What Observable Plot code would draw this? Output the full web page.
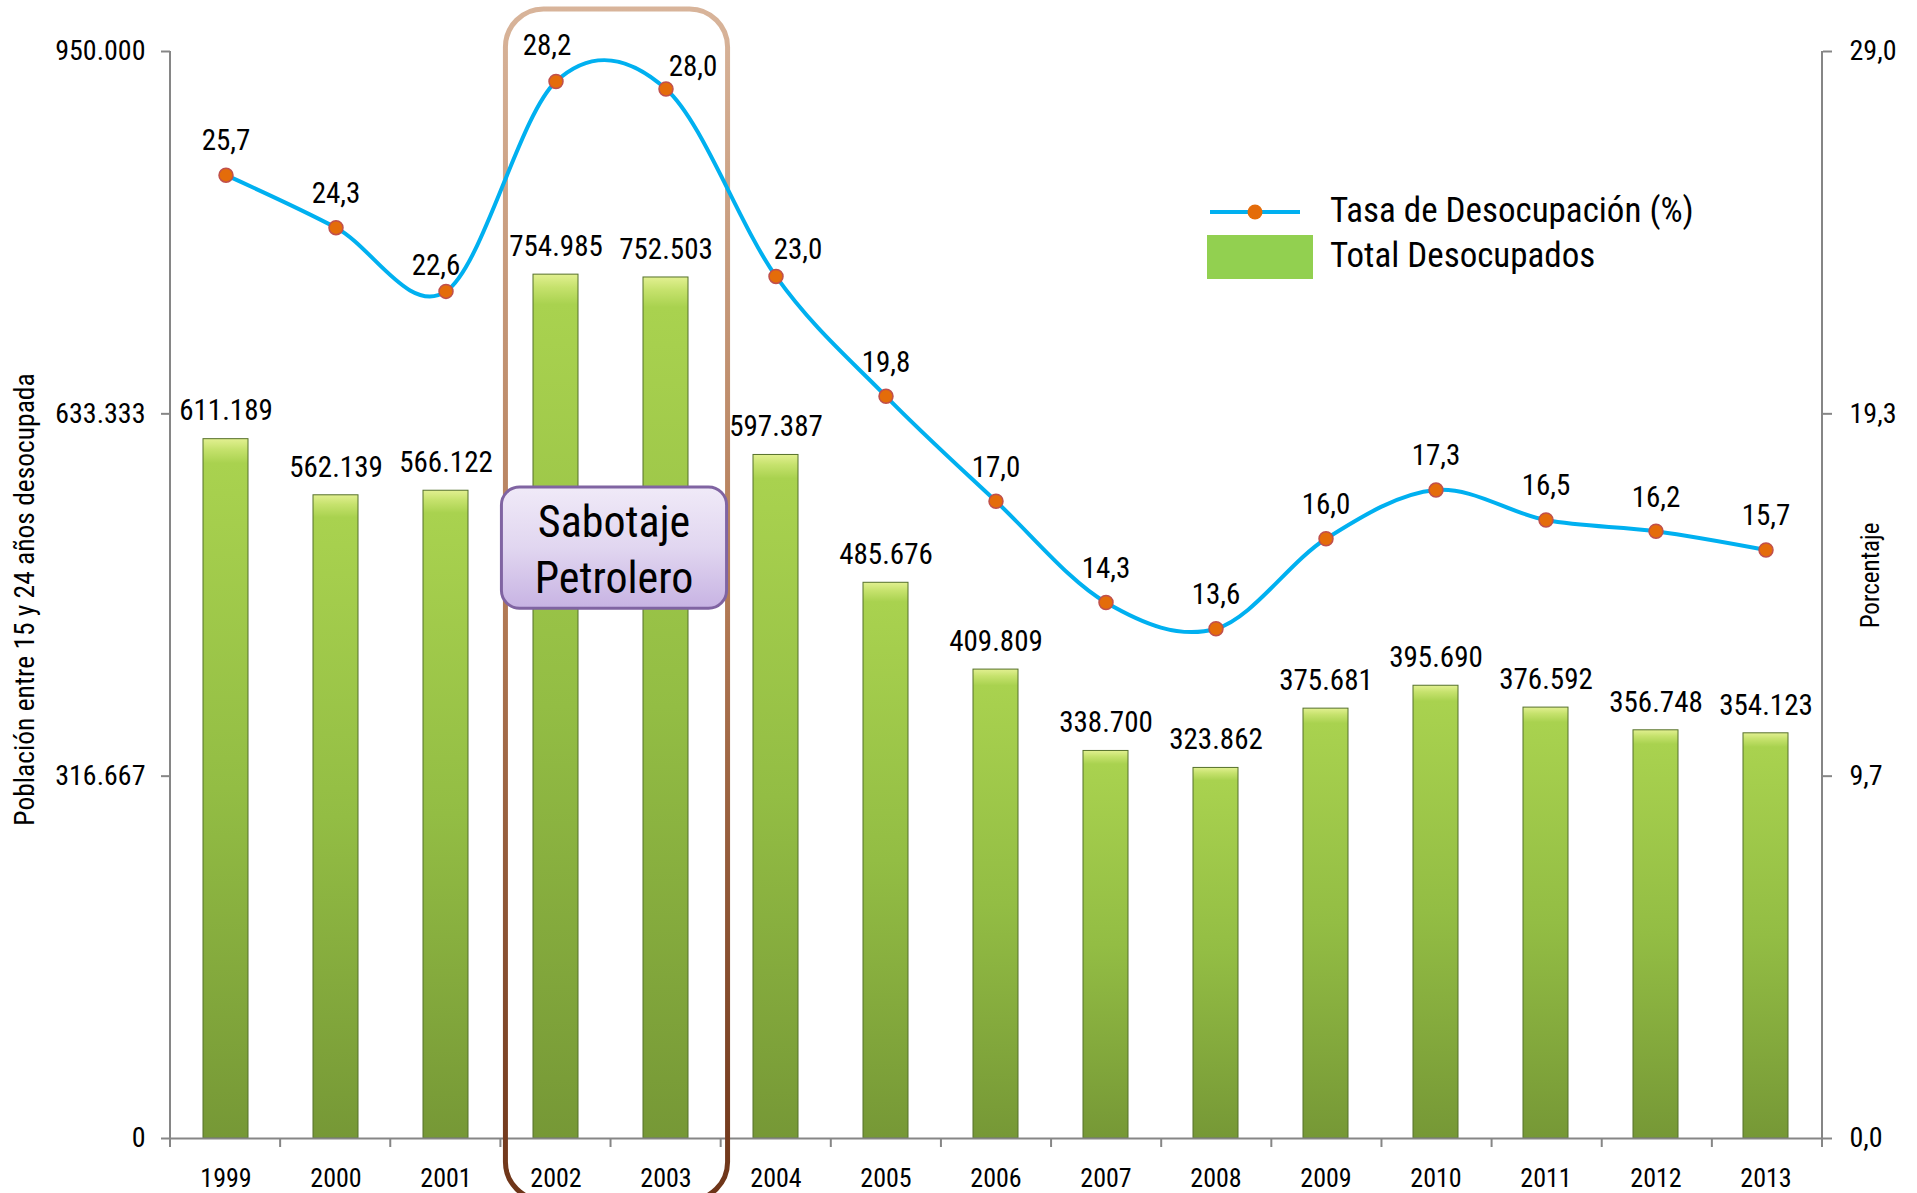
<!DOCTYPE html>
<html>
<head>
<meta charset="utf-8">
<script src="https://cdn.jsdelivr.net/npm/d3@7"></script>
<script src="https://cdn.jsdelivr.net/npm/@observablehq/plot@0.6"></script>
<style>
  html, body { margin: 0; padding: 0; background: #fff; }
  #chart svg { display: block; }
</style>
</head>
<body>
<div id="chart"></div>
<script>
// ---- data ----
const years = ["1999","2000","2001","2002","2003","2004","2005","2006","2007","2008","2009","2010","2011","2012","2013"];
const totalDesocupados = [611189, 562139, 566122, 754985, 752503, 597387, 485676, 409809, 338700, 323862, 375681, 395690, 376592, 356748, 354123];
const tasaDesocupacion = [25.7, 24.3, 22.6, 28.2, 28.0, 23.0, 19.8, 17.0, 14.3, 13.6, 16.0, 17.3, 16.5, 16.2, 15.7];
const leftTicks = [0, 316667, 633333, 950000];
const leftMax = 950000;
const rightMax = 29;
const highlightYears = ["2002", "2003"];
const highlightText = ["Sabotaje", "Petrolero"];
const seriesNames = ["Tasa de Desocupación (%)", "Total Desocupados"];
const leftTitle = "Población entre 15 y 24 años desocupada";
const rightTitle = "Porcentaje";

// ---- helpers ----
const locale = d3.formatLocale({decimal: ",", thousands: ".", grouping: [3], currency: ["", ""]});
const fmtInt = locale.format(",.0f");
const fmtPct = locale.format(".1f");
const k = leftMax / rightMax;
const FONT = '"Liberation Sans Narrow", "Arial Narrow", "Roboto Condensed", "DejaVu Sans Condensed", sans-serif';

// label nudges for the rate labels (style, not data)
const rateLabelDx = {"2001": -10, "2002": -9, "2003": 27, "2004": 22};
const rateLabelDy = {"2001": -26, "2002": -36, "2003": -22, "2004": -27};

const data = years.map((y, i) => ({
  year: y,
  total: totalDesocupados[i],
  tasa: tasaDesocupacion[i],
  tasaY: tasaDesocupacion[i] * k
}));

const chart = Plot.plot({
  width: 1917,
  height: 1193,
  marginLeft: 170,
  marginRight: 95,
  marginTop: 51,
  marginBottom: 55,
  style: {fontFamily: FONT, fontSize: "26px", color: "#000", background: "#fff", overflow: "visible"},
  x: {domain: years, paddingInner: 0.59, paddingOuter: 0.295, label: null},
  y: {domain: [0, leftMax], label: null},
  marks: [
    Plot.barY(data, {x: "year", y: "total", fill: "url(#barGrad)", stroke: "#55702a", strokeWidth: 1}),
    Plot.ruleY([0], {stroke: "#868686", strokeWidth: 2}),
    Plot.axisX({tickSize: 0, tickPadding: 30, fontSize: 26, label: null, fill: "#000"}),
    Plot.axisY({ticks: leftTicks, tickFormat: fmtInt, tickSize: 9, tickPadding: 16, fontSize: 28, stroke: "#868686", strokeWidth: 2, fill: "#000", label: null}),
    Plot.axisY({anchor: "right", ticks: leftTicks, tickFormat: v => fmtPct(v / k), tickSize: 9, tickPadding: 18, fontSize: 28, stroke: "#868686", strokeWidth: 2, fill: "#000", label: null}),
    Plot.line(data, {x: "year", y: "tasaY", stroke: "#00b0f0", strokeWidth: 4, curve: "cardinal", tension: 0}),
    Plot.dot(data, {x: "year", y: "tasaY", r: 7, fill: "#e46c0a", stroke: "#c0504d", strokeWidth: 1.5}),
    Plot.text(data, {x: "year", y: "tasaY", text: d => fmtPct(d.tasa), fontSize: 29, fill: "#000", className: "rate-label"}),
    Plot.text(data, {x: "year", y: "total", text: d => fmtInt(d.total), dy: -28, fontSize: 29, fill: "#000"})
  ]
});

document.getElementById("chart").appendChild(chart);

// ---- decorations built from the chart's scales ----
const svg = d3.select(chart);
const xs = chart.scale("x");
const ys = chart.scale("y");
const [xr0, xr1] = xs.range;
const [yBottom, yTop] = ys.range;
const n = years.length;
const step = (xr1 - xr0) / n;

// nudge rate labels
svg.selectAll("g.rate-label text").each(function(_, i) {
  const y = years[i];
  const dx = rateLabelDx[y] ?? 0;
  const dy = rateLabelDy[y] ?? -34;
  const t = this.getAttribute("transform") || "";
  this.setAttribute("transform", t + ` translate(${dx},${dy})`);
});

const defs = svg.insert("defs", ":first-child");
const bg = defs.append("linearGradient").attr("id", "barGrad").attr("x1", 0).attr("y1", 0).attr("x2", 0).attr("y2", 1);
[[0, "#e2f091"], [0.015, "#c6e26d"], [0.035, "#a9d24f"], [0.5, "#93bd44"], [1, "#769836"]]
  .forEach(([o, c]) => bg.append("stop").attr("offset", o).attr("stop-color", c));
const hg = defs.append("linearGradient").attr("id", "hlGrad").attr("x1", 0).attr("y1", 0).attr("x2", 0).attr("y2", 1);
[[0, "#d8b49a"], [0.5, "#b27a55"], [1, "#6d3418"]]
  .forEach(([o, c]) => hg.append("stop").attr("offset", o).attr("stop-color", c));
const pg = defs.append("linearGradient").attr("id", "boxGrad").attr("x1", 0).attr("y1", 0).attr("x2", 0).attr("y2", 1);
[[0, "#f0eaf8"], [0.5, "#e1d6f0"], [1, "#c7b3e3"]]
  .forEach(([o, c]) => pg.append("stop").attr("offset", o).attr("stop-color", c));

// axis lines
const ax = svg.append("g").attr("stroke", "#868686").attr("stroke-width", 2);
ax.append("line").attr("x1", xr0).attr("x2", xr0).attr("y1", yTop).attr("y2", yBottom);
ax.append("line").attr("x1", xr1).attr("x2", xr1).attr("y1", yTop).attr("y2", yBottom);
for (let i = 0; i <= n; i++) {
  const xx = xr0 + i * step;
  ax.append("line").attr("x1", xx).attr("x2", xx).attr("y1", yBottom).attr("y2", yBottom + 9);
}

// highlight box (2002-2003)
const hlLeft = xs.apply(highlightYears[0]) - (step - xs.bandwidth) / 2 + 5;
const hlRight = xs.apply(highlightYears[1]) + xs.bandwidth + (step - xs.bandwidth) / 2 + 7;
const hl = svg.insert("g", 'g[aria-label="line"]');
hl.append("rect")
  .attr("x", hlLeft).attr("y", 9)
  .attr("width", hlRight - hlLeft).attr("height", 1200 - 9)
  .attr("rx", 38).attr("ry", 38)
  .attr("fill", "none").attr("stroke", "url(#hlGrad)").attr("stroke-width", 5);

// Sabotaje Petrolero label box
const boxTop = ys.apply(569000), boxBottom = ys.apply(463000);
const bx = hl.append("g");
const bxLeft = hlLeft - 4, bxWidth = hlRight - hlLeft + 3;
bx.append("rect")
  .attr("x", bxLeft).attr("y", boxTop)
  .attr("width", bxWidth).attr("height", boxBottom - boxTop)
  .attr("rx", 18).attr("ry", 18)
  .attr("fill", "url(#boxGrad)").attr("stroke", "#8064a2").attr("stroke-width", 3);
const bxc = bxLeft + bxWidth / 2;
highlightText.forEach((t, i) => {
  bx.append("text").attr("x", bxc).attr("y", boxTop + 38 + i * 56)
    .attr("text-anchor", "middle").attr("dominant-baseline", "middle")
    .attr("font-family", FONT).attr("font-size", 44).attr("fill", "#000").text(t);
});

// axis titles
svg.append("text")
  .attr("transform", `translate(27,${(yTop + yBottom) / 2 + 5}) rotate(-90)`)
  .attr("text-anchor", "middle").attr("dominant-baseline", "middle")
  .attr("font-family", FONT).attr("font-size", 27.5).attr("fill", "#000").text(leftTitle);
svg.append("text")
  .attr("transform", `translate(1872,${(yTop + yBottom) / 2 - 19}) rotate(-90)`)
  .attr("text-anchor", "middle").attr("dominant-baseline", "middle")
  .attr("font-family", FONT).attr("font-size", 25).attr("fill", "#000").text(rightTitle);

// legend
const lg = svg.append("g").attr("font-family", FONT).attr("font-size", 35).attr("fill", "#000").attr("text-anchor", "start");
lg.append("line").attr("x1", 1210).attr("x2", 1300).attr("y1", 212).attr("y2", 212)
  .attr("stroke", "#00b0f0").attr("stroke-width", 4);
lg.append("circle").attr("cx", 1255).attr("cy", 212).attr("r", 7.5).attr("fill", "#e46c0a");
lg.append("rect").attr("x", 1207).attr("y", 235).attr("width", 106).attr("height", 44).attr("fill", "#92d050");
lg.append("text").attr("x", 1330).attr("y", 213).attr("dominant-baseline", "middle").text(seriesNames[0]);
lg.append("text").attr("x", 1330).attr("y", 258).attr("dominant-baseline", "middle").text(seriesNames[1]);
</script>
</body>
</html>
